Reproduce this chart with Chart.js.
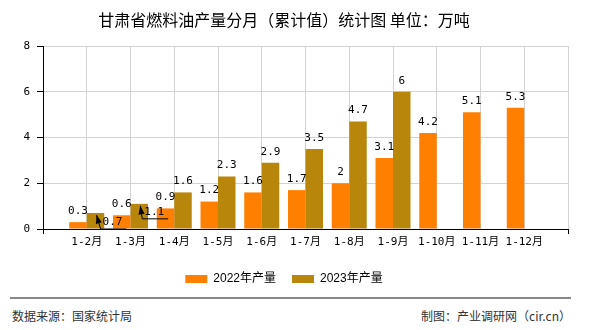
<!DOCTYPE html>
<html>
<head>
<meta charset="utf-8">
<script src="https://cdn.jsdelivr.net/npm/chart.js@4/dist/chart.umd.min.js"></script>
<style>
  body { margin: 0; background: #fff; }
  #wrap { position: relative; width: 590px; height: 330px; overflow: hidden; }
  #myChart { position: absolute; left: 0; top: 0; }
  .foot-line { position: absolute; left: 10px; top: 297px; width: 561px; height: 0; border-top: 2px solid #888; z-index: 2; }
  .foot { position: absolute; top: 307px; font: 12px "Noto Sans CJK SC", sans-serif; color: #333; z-index: 2; line-height: 18px; }
  .foot.l { left: 12px; }
  .foot.r { right: 19px; }
</style>
</head>
<body>
<div id="wrap">
  <canvas id="myChart" width="590" height="295"></canvas>
  <div class="foot-line"></div>
  <div class="foot l">数据来源：国家统计局</div>
  <div class="foot r">制图：产业调研网（cir.cn）</div>
</div>
<script>
const months = ['1-2月', '1-3月', '1-4月', '1-5月', '1-6月', '1-7月', '1-8月', '1-9月', '1-10月', '1-11月', '1-12月'];
const output2022 = [0.3, 0.6, 0.9, 1.2, 1.6, 1.7, 2, 3.1, 4.2, 5.1, 5.3];
const output2023 = [0.7, 1.1, 1.6, 2.3, 2.9, 3.5, 4.7, 6];
const yTicks = [0, 2, 4, 6, 8];

// empty slot at both ends, bars sit on the grid lines
const pad = (arr) => [null, ...months.map((m, i) => (arr[i] === undefined ? null : arr[i])), null];
const labels = ['', ...months, ''];

const monoFont = '"DejaVu Sans Mono", "Noto Sans CJK SC", monospace';

// two labels that were pushed aside in the original, with a leader arrow
const nudged = { '1-1': { dx: 17, dy: 9 }, '1-2': { dx: 15, dy: 8 } };

const valueLabels = {
    id: 'valueLabels',
    afterDatasetsDraw(chart) {
        const c = chart.ctx;
        c.save();
        c.font = '11px ' + monoFont;
        c.fillStyle = '#000';
        c.strokeStyle = '#000';
        c.textAlign = 'center';
        c.textBaseline = 'middle';
        chart.data.datasets.forEach((ds, di) => {
            chart.getDatasetMeta(di).data.forEach((bar, i) => {
                const v = ds.data[i];
                if (v === null) return;
                const text = String(v);
                const n = nudged[di + '-' + i];
                if (!n) {
                    c.fillText(text, bar.x, bar.y - 11);
                    return;
                }
                const tx = bar.x + n.dx, ty = bar.y + n.dy;
                const w = c.measureText(text).width;
                c.fillText(text, tx, ty);
                const lx = tx - w / 2 - 2, ly = ty + 7;
                c.lineWidth = 1;
                c.beginPath();
                c.moveTo(tx + w / 2 + 4, ly);
                c.lineTo(lx, ly);
                c.lineTo(bar.x + 1, bar.y + 2);
                c.stroke();
                // arrow head
                const ang = Math.atan2(bar.y + 2 - ly, bar.x + 1 - lx);
                const hx = bar.x + 1, hy = bar.y + 2;
                c.beginPath();
                c.moveTo(hx, hy);
                c.lineTo(hx - 9 * Math.cos(ang - 0.35), hy - 9 * Math.sin(ang - 0.35));
                c.lineTo(hx - 9 * Math.cos(ang + 0.35), hy - 9 * Math.sin(ang + 0.35));
                c.closePath();
                c.fill();
            });
        });
        c.restore();
    }
};

new Chart(document.getElementById('myChart'), {
    type: 'bar',
    data: {
        labels: labels,
        datasets: [
            {
                label: '2022年产量',
                data: pad(output2022),
                backgroundColor: '#FF8000',
                categoryPercentage: 0.8,
                barPercentage: 1.0,
            },
            {
                label: '2023年产量',
                data: pad(output2023),
                backgroundColor: '#B8860B',
                categoryPercentage: 0.8,
                barPercentage: 1.0,
            }
        ]
    },
    options: {
        responsive: false,
        animation: false,
        layout: { padding: { left: 0, right: 22, top: 0, bottom: 0 } },
        plugins: {
            title: {
                display: true,
                text: '甘肃省燃料油产量分月（累计值）统计图 单位：万吨',
                color: '#000',
                font: { family: '"Noto Sans CJK SC", sans-serif', size: 16, weight: 'normal' },
                padding: { top: 10, bottom: 16.8 }
            },
            legend: {
                position: 'bottom',
                labels: {
                    boxWidth: 22,
                    boxHeight: 8,
                    padding: 16,
                    color: '#000',
                    font: { family: '"Liberation Sans", "Noto Sans CJK SC", sans-serif', size: 12 }
                }
            },
            tooltip: { enabled: false }
        },
        scales: {
            x: {
                offset: false,
                grid: {
                    offset: false,
                    color: '#d3d3d3',
                    tickLength: 5,
                    tickColor: (ctx) => (ctx.index === 0 || ctx.index === labels.length - 1 ? '#000' : 'rgba(0,0,0,0)')
                },
                border: { color: '#000' },
                ticks: {
                    autoSkip: false,
                    maxRotation: 0,
                    padding: 2,
                    color: '#000',
                    font: { family: monoFont, size: 11 }
                },
                afterFit: (s) => { s.height = 28; }
            },
            y: {
                min: yTicks[0],
                max: yTicks[yTicks.length - 1],
                afterBuildTicks: (s) => { s.ticks = yTicks.map(v => ({ value: v })); },
                grid: { color: '#d3d3d3', tickColor: '#000', tickLength: 6 },
                border: { color: '#000' },
                ticks: {
                    padding: 7,
                    color: '#000',
                    font: { family: monoFont, size: 11 }
                },
                afterFit: (s) => { s.width = 43; }
            }
        }
    },
    plugins: [valueLabels]
});
</script>
</body>
</html>
